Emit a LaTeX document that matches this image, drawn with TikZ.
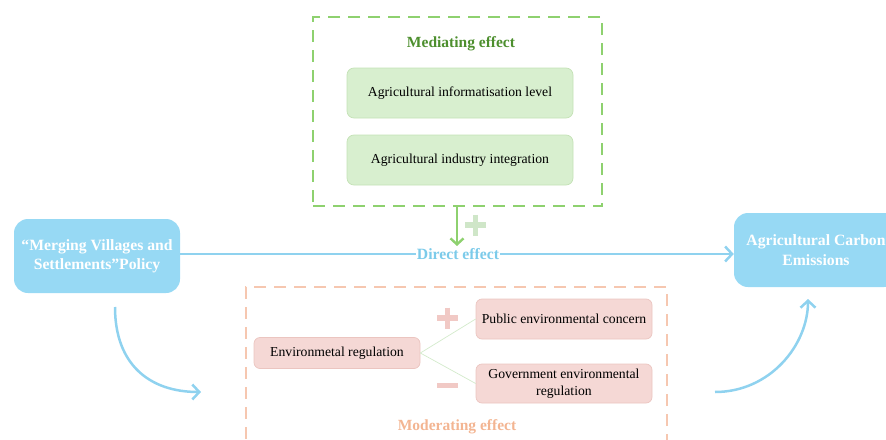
\documentclass[tikz,border=0pt]{standalone}
\usepackage{fontspec}
\setmainfont{Liberation Serif}
\usetikzlibrary{arrows.meta}
\definecolor{gdash}{HTML}{8ED16F}
\definecolor{gtext}{HTML}{4D8F2E}
\definecolor{gfill}{HTML}{D8EFCF}
\definecolor{gline}{HTML}{C4E2B6}
\definecolor{gplus}{HTML}{CFE6C8}
\definecolor{bfill}{HTML}{97D9F4}
\definecolor{bline}{HTML}{8FD2EF}
\definecolor{btext}{HTML}{7CCBEA}
\definecolor{odash}{HTML}{F6C7B0}
\definecolor{otext}{HTML}{F3B592}
\definecolor{pfill}{HTML}{F5D8D5}
\definecolor{pline}{HTML}{EBC5C0}
\definecolor{psign}{HTML}{F1C9C5}
\definecolor{tline}{HTML}{D3EACB}
\begin{document}
\begin{tikzpicture}[x=1pt,y=-1pt,
  greenbox/.style={draw=gline,fill=gfill,rounded corners=7pt,line width=0.7pt,minimum width=226pt,minimum height=50pt,inner sep=0pt,font=\fontsize{13.7}{16}\selectfont,text=black},
  pinkbox/.style={draw=pline,fill=pfill,rounded corners=6pt,line width=0.7pt,minimum width=176pt,inner sep=0pt,font=\fontsize{13.7}{16}\selectfont,text=black,align=center},
  bluebox/.style={fill=bfill,rounded corners=14pt,minimum width=166pt,minimum height=74pt,inner sep=0pt,font=\bfseries\fontsize{15.7}{19.5}\selectfont,text=white,align=center},
  dashbox/.style={line width=2.4pt,dash pattern=on 12pt off 8pt,inner sep=0pt},
  bluearrow/.style={draw=bline,line width=2.5pt,-{Straight Barb[length=7pt,width=15pt,line width=2.5pt]}},
  signbar/.style={line width=5.5pt}
]
\useasboundingbox (0,0) rectangle (886,439);
\clip (0,0) rectangle (886,439);

% mediating group
\node[dashbox,draw=gdash,minimum width=289pt,minimum height=189pt] (med) at (457.5,111.5) {};
\node[font=\bfseries\fontsize{15.5}{18}\selectfont,text=gtext] (medt) at (461,44) {Mediating effect};
\node[greenbox] (info) at (460,93) {Agricultural informatisation level};
\node[greenbox] (integ) at (460,160) {Agricultural industry integration};

% moderating group
\node[dashbox,draw=odash,minimum width=421pt,minimum height=158pt] (mod) at (456.5,366) {};
\node[font=\bfseries\fontsize{15.5}{18}\selectfont,text=otext] (modt) at (457,427) {Moderating effect};
\node[pinkbox,minimum width=166pt,minimum height=31pt] (env) at (337,353) {Environmetal regulation};
\node[pinkbox,minimum height=40pt] (pub) at (564,319) {Public environmental concern};
\node[pinkbox,minimum height=39pt,font=\fontsize{13.7}{16.5}\selectfont] (gov) at (564,383.5) {Government environmental\\regulation};
\draw[tline,line width=0.7pt] (env.east) -- (pub.west);
\draw[tline,line width=0.7pt] (env.east) -- (gov.west);
\draw[psign,signbar] (437,318) -- (458,318) (447.5,307.5) -- (447.5,328.5);
\draw[psign,signbar] (437,385.5) -- (458,385.5);

% main nodes
\node[bluebox] (policy) at (97,256) {“Merging Villages and\\Settlements”Policy};
\node[bluebox,minimum width=164pt] (ace) at (816,250) {Agricultural Carbon\\Emissions};

% direct effect
\node[fill=white,inner sep=0.5pt,font=\bfseries\fontsize{15.7}{18}\selectfont,text=btext] (direct) at (458,254) {Direct effect};
\draw[bluearrow] (policy.east |- direct) -- (direct.west) (direct.east) -- (ace.west |- direct);

% mediating arrow
\coordinate (gtip) at (457,246);
\draw[gdash,line width=2.4pt,-{Straight Barb[length=6pt,width=13pt,line width=2.4pt]}] (med.south -| gtip) -- (gtip);
\draw[gplus,signbar] (465,225) -- (486,225) (475.5,214.5) -- (475.5,235.5);

% curved arrows
\coordinate (c1) at (115,307);
\coordinate (c2) at (201,392);
\coordinate (c3) at (715,392);
\coordinate (c4) at (808,299);
\draw[bluearrow] (c1) .. controls (115,365) and (150,392) .. (c2);
\draw[bluearrow] (c3) .. controls (770,392) and (808,345) .. (c4);
\end{tikzpicture}
\end{document}
